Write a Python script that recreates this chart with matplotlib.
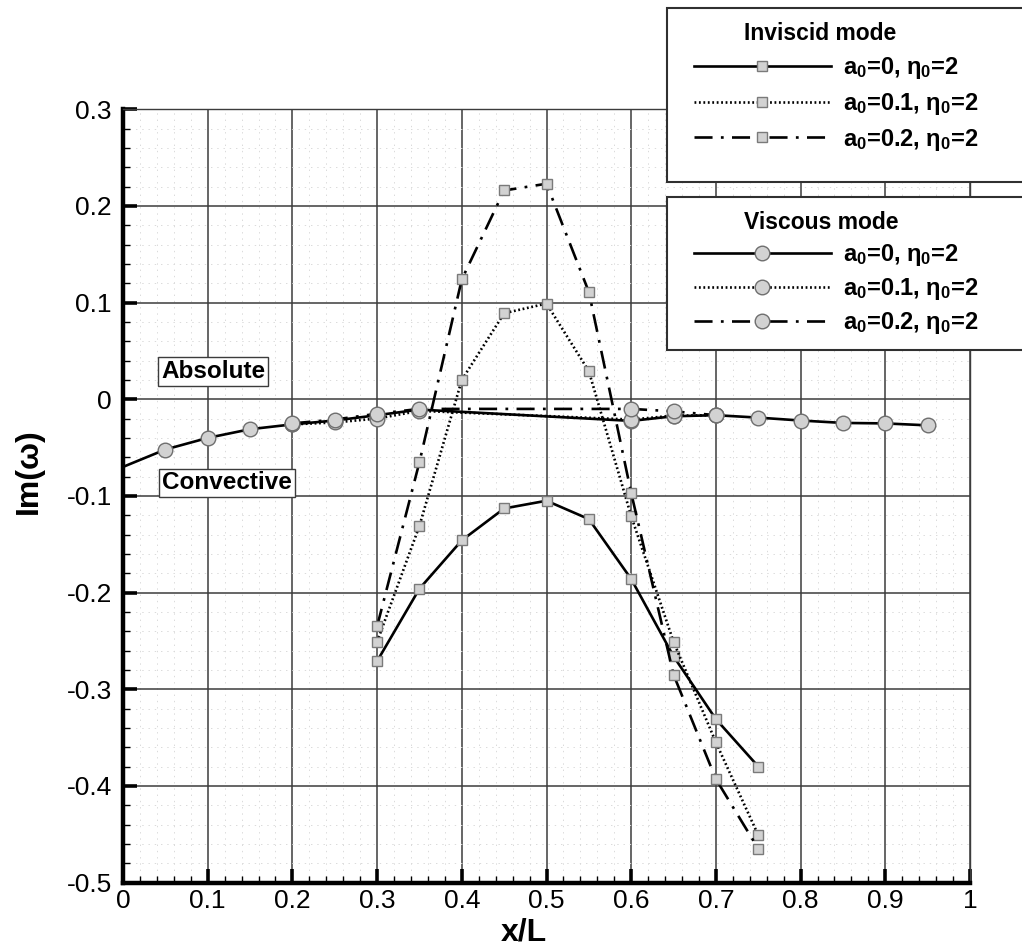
import matplotlib
matplotlib.use("Agg")
import matplotlib.pyplot as plt
from matplotlib.lines import Line2D
from matplotlib.patches import Rectangle

plt.rcParams['font.family'] = ['Liberation Sans', 'DejaVu Sans']
plt.rcParams['mathtext.fontset'] = 'custom'
plt.rcParams['mathtext.rm'] = 'Liberation Sans'
plt.rcParams['mathtext.bf'] = 'Liberation Sans:bold'
plt.rcParams['mathtext.it'] = 'Liberation Sans:italic'
plt.rcParams['mathtext.default'] = 'bf'
plt.rcParams['lines.scale_dashes'] = False

# ---------------- data ----------------
# viscous mode (circles)
xv0 = [0.0, 0.05, 0.1, 0.15, 0.2, 0.25, 0.3, 0.35, 0.6, 0.65, 0.7, 0.75, 0.8, 0.85, 0.9, 0.95]
yv0 = [-0.070, -0.052, -0.040, -0.031, -0.026, -0.022, -0.0165, -0.0107, -0.0224, -0.0176,
       -0.0165, -0.019, -0.022, -0.0245, -0.025, -0.027]
xv1 = [0.2, 0.25, 0.3, 0.35, 0.6, 0.65, 0.7]
yv1 = [-0.026, -0.024, -0.020, -0.012, -0.021, -0.017, -0.0165]
xv2 = [0.2, 0.25, 0.3, 0.35, 0.6, 0.65, 0.7]
yv2 = [-0.025, -0.021, -0.015, -0.0100, -0.0100, -0.0125, -0.0165]

# inviscid mode (squares)
xi = [0.3, 0.35, 0.4, 0.45, 0.5, 0.55, 0.6, 0.65, 0.7, 0.75]
yi0 = [-0.271, -0.196, -0.146, -0.113, -0.105, -0.124, -0.186, -0.266, -0.331, -0.380]
yi1 = [-0.251, -0.131, 0.020, 0.089, 0.099, 0.029, -0.121, -0.251, -0.355, -0.451]
yi2 = [-0.235, -0.065, 0.124, 0.216, 0.223, 0.111, -0.097, -0.285, -0.393, -0.465]

labels = ['a$_0$=0, η$_0$=2', 'a$_0$=0.1, η$_0$=2', 'a$_0$=0.2, η$_0$=2']
xticks = [0, 0.1, 0.2, 0.3, 0.4, 0.5, 0.6, 0.7, 0.8, 0.9, 1]
yticks = [-0.5, -0.4, -0.3, -0.2, -0.1, 0, 0.1, 0.2, 0.3]

# ---------------- styles ----------------
LW = 1.9
styles = [dict(ls='-'),
          dict(ls=(0, (1.3, 1.9))),
          dict(ls=(0, (13, 6, 2, 6)))]
sq = dict(marker='s', ms=6.5, mfc='#d2d2d2', mec='#7a7a7a', mew=1.0)
ci = dict(marker='o', ms=10.5, mfc='#d2d2d2', mec='#6e6e6e', mew=1.0)

fig = plt.figure(figsize=(10.22, 9.51), dpi=100)
ax = fig.add_axes([123 / 1022, 1 - 882.5 / 951, (970 - 123) / 1022, (882.5 - 109.3) / 951])

for i, (x, y, st) in enumerate(zip([xv0, xv1, xv2], [yv0, yv1, yv2], styles)):
    mev = list(range(1, len(x))) if x[0] == 0 else None
    ax.plot(x, y, color='black', lw=LW, dash_capstyle='butt', zorder=3, markevery=mev,
            **st, **ci)
for y, st in zip([yi0, yi1, yi2], styles):
    ax.plot(xi, y, color='black', lw=LW, dash_capstyle='butt', zorder=4, **st, **sq)

ax.set_xlim(0, 1)
ax.set_ylim(-0.5, 0.3)
ax.set_xticks(xticks)
ax.set_xticklabels([f'{v:g}' for v in xticks])
ax.set_yticks(yticks)
ax.set_yticklabels([f'{v:g}' for v in yticks])
ax.set_xticks([i * 0.02 for i in range(51)], minor=True)
ax.set_yticks([-0.5 + i * 0.02 for i in range(41)], minor=True)
ax.tick_params(which='major', direction='in', length=10, width=2.6, labelsize=19, pad=5,
               top=False, right=False)
ax.tick_params(axis='y', which='major', pad=8)
ax.tick_params(which='minor', direction='in', length=5, width=1.0, top=False, right=False)
ax.grid(which='major', color='#3c3c3c', lw=1.1)
ax.grid(which='minor', color='#dadada', lw=0.7, ls=(0, (1, 3.5)))
ax.set_axisbelow(True)
for s in ['left', 'bottom']:
    ax.spines[s].set_linewidth(3.2)
for s in ['top', 'right']:
    ax.spines[s].set_linewidth(1.0)
    ax.spines[s].set_color('#3c3c3c')

ax.set_xlabel('x/L', fontsize=23, fontweight='bold')
ax.set_ylabel('Im(ω)', fontsize=23, fontweight='bold')
ax.xaxis.set_label_coords((524 - 123) / 847, (882.5 - 917) / 773)
ax.yaxis.set_label_coords((44 - 123) / 847, (882.5 - 471) / 773)

box = dict(boxstyle='square,pad=0.12', fc='white', ec='#3c3c3c', lw=1.0)
ax.text(0.1065, 0.029, 'Absolute', fontsize=17.5, fontweight='bold', ha='center', va='center',
        bbox=box, zorder=5)
ax.text(0.1225, -0.0866, 'Convective', fontsize=17.5, fontweight='bold', ha='center', va='center',
        bbox=box, zorder=5)

# legend frames
fig.add_artist(Rectangle((667 / 1022, 1 - 182 / 951), 0.5, (182 - 8) / 951,
                         transform=fig.transFigure, fc='white', ec='#303030', lw=1.5, zorder=2))
fig.add_artist(Rectangle((667 / 1022, 1 - 350 / 951), 0.5, (350 - 197) / 951,
                         transform=fig.transFigure, fc='white', ec='#303030', lw=1.5, zorder=2))

def mk_handles(mk):
    return [Line2D([], [], color='black', lw=LW, dash_capstyle='butt', **st, **mk) for st in styles]

common = dict(loc='upper left', frameon=False, borderpad=0, borderaxespad=0,
              handlelength=5.8, handletextpad=0.5, markerfirst=True,
              prop={'weight': 'bold', 'size': 17},
              title_fontproperties={'weight': 'bold', 'size': 16.5},
              bbox_transform=fig.transFigure)
leg1 = fig.legend(mk_handles(sq), labels, title='Inviscid mode', labelspacing=0.42,
                  bbox_to_anchor=(694 / 1022, 1 - 22 / 951), **common)
leg1.set_zorder(6)
leg2 = fig.legend(mk_handles(ci), labels, title='Viscous mode', labelspacing=0.34,
                  bbox_to_anchor=(694 / 1022, 1 - 211 / 951), **common)
leg2.set_zorder(6)
for lg in (leg1, leg2):
    lg._legend_box.align = 'left'
    lg.get_title().set_position((50, 0))

fig.savefig('out.png', dpi=100)
